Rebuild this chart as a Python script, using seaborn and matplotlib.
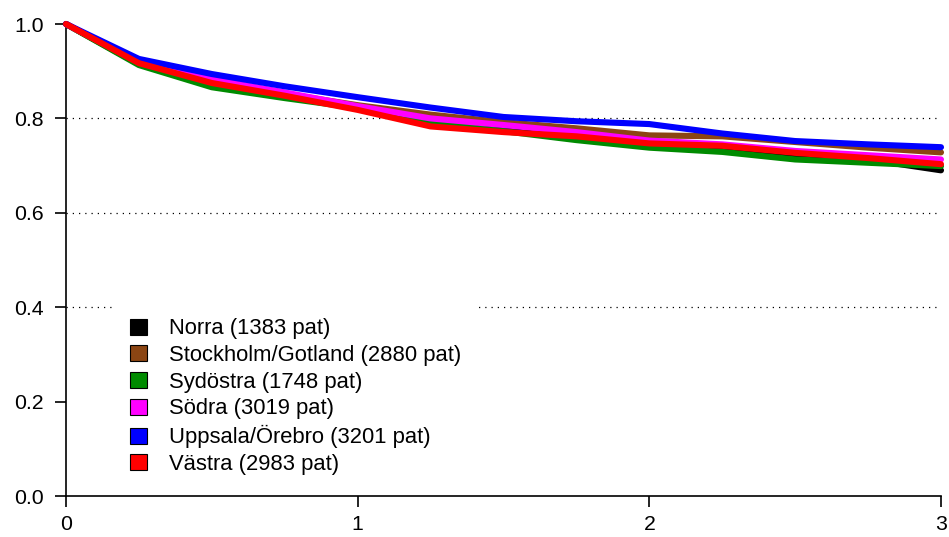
import numpy as np
import pandas as pd
import matplotlib
matplotlib.use("Agg")
import matplotlib.pyplot as plt
from matplotlib.patches import Patch
import seaborn as sns

# ---- data ----
years = [0, 0.25, 0.5, 0.75, 1.0, 1.25, 1.5, 1.75, 2.0, 2.25, 2.5, 2.75, 3.0]
regions = ["Norra (1383 pat)", "Stockholm/Gotland (2880 pat)", "Sydöstra (1748 pat)",
           "Södra (3019 pat)", "Uppsala/Örebro (3201 pat)", "Västra (2983 pat)"]
norra     = [1.0, 0.915, 0.872, 0.846, 0.822, 0.790, 0.775, 0.758, 0.742, 0.735, 0.722, 0.713, 0.690]
stockholm = [1.0, 0.918, 0.880, 0.852, 0.828, 0.808, 0.792, 0.779, 0.764, 0.762, 0.750, 0.738, 0.728]
sydostra  = [1.0, 0.913, 0.866, 0.843, 0.822, 0.790, 0.773, 0.754, 0.738, 0.729, 0.713, 0.706, 0.699]
sodra     = [1.0, 0.920, 0.883, 0.855, 0.826, 0.800, 0.786, 0.771, 0.753, 0.745, 0.731, 0.722, 0.713]
uppsala   = [1.0, 0.926, 0.894, 0.868, 0.845, 0.823, 0.803, 0.794, 0.788, 0.768, 0.752, 0.745, 0.739]
vastra    = [1.0, 0.917, 0.875, 0.848, 0.818, 0.783, 0.771, 0.762, 0.747, 0.742, 0.727, 0.716, 0.703]
colors = ["#000000", "#8B4513", "#008B00", "#FF00FF", "#0000FF", "#FF0000"]
xticks = [0, 1, 2, 3]
xticklabels = ["0", "1", "2", "3"]
yticks = [0.0, 0.2, 0.4, 0.6, 0.8, 1.0]
yticklabels = ["0.0", "0.2", "0.4", "0.6", "0.8", "1.0"]
gridlines = [0.4, 0.6, 0.8]

series = [norra, stockholm, sydostra, sodra, uppsala, vastra]
df = pd.concat([pd.DataFrame({"year": years, "surv": s, "region": r})
                for r, s in zip(regions, series)], ignore_index=True)

sns.set_style("ticks")
plt.rcParams["font.family"] = ["Liberation Sans", "DejaVu Sans"]
plt.rcParams["text.color"] = "black"

fig = plt.figure(figsize=(9.49, 5.37), dpi=100)
ax = fig.add_axes([66 / 949, 1 - 496 / 537, 875 / 949, 472 / 537])

for g in gridlines:
    ax.axhline(g, color="black", lw=0.9, ls=(0, (1, 4)), zorder=1)

sns.lineplot(data=df, x="year", y="surv", hue="region", hue_order=regions,
             palette=colors, linewidth=4.4, legend=False, ax=ax, zorder=3)
for line in ax.get_lines()[len(gridlines):]:
    line.set_clip_on(False)
    line.set_solid_capstyle("round")
    line.set_solid_joinstyle("round")

ax.set_xlim(0, 3)
ax.set_ylim(0, 1)
ax.set_xticks(xticks)
ax.set_xticklabels(xticklabels)
ax.set_yticks(yticks)
ax.set_yticklabels(yticklabels)
ax.set_xlabel("")
ax.set_ylabel("")
for side in ["top", "right"]:
    ax.spines[side].set_visible(False)
for side in ["left", "bottom"]:
    ax.spines[side].set_linewidth(1.2)
    ax.spines[side].set_color("black")
ax.tick_params(axis="both", length=8, width=1.2, color="black", labelsize=15.3, labelcolor="black")
ax.tick_params(axis="y", pad=8)
ax.tick_params(axis="x", pad=6)

handles = [Patch(facecolor=c, edgecolor="black", linewidth=0.8) for c in colors]
leg = ax.legend(handles, regions, loc="upper left", bbox_to_anchor=(49 / 875, 193 / 472),
                frameon=True, fontsize=15.8, handlelength=0.75, handleheight=0.75,
                handletextpad=1.0, labelspacing=0.26, borderpad=0.7, borderaxespad=0)
for t in leg.get_texts():
    t.set_color("black")
leg.get_frame().set_facecolor("white")
leg.get_frame().set_edgecolor("white")
leg.get_frame().set_alpha(1.0)
leg.get_frame().set_boxstyle("square", pad=0)
leg.set_zorder(5)

fig.savefig("out.png", dpi=100)
